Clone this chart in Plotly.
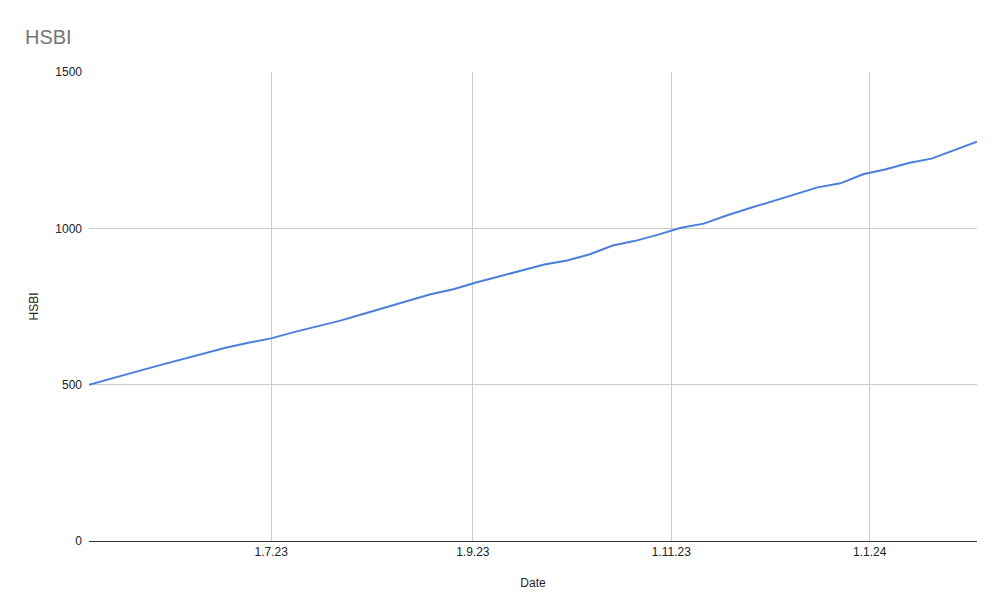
import plotly.graph_objects as go
import pandas as pd

start_date = "2023-05-06"
n_weeks = 40
hsbi_values = [500, 521, 540, 560, 580, 600, 618, 634, 648, 668,
               686, 704, 725, 746, 769, 789, 805, 827, 846, 864,
               884, 897, 917, 945, 960, 980, 1002, 1015, 1041, 1064,
               1086, 1108, 1131, 1144, 1173, 1189, 1209, 1223, 1250, 1277]
dates = list(pd.date_range(start_date, periods=n_weeks, freq="7D"))

x_tick_dates = ["2023-07-01", "2023-09-01", "2023-11-01", "2024-01-01"]
x_tick_labels = ["1.7.23", "1.9.23", "1.11.23", "1.1.24"]
y_ticks = [0, 500, 1000, 1500]

font_family = "Arial, Liberation Sans, sans-serif"

fig = go.Figure()
fig.add_trace(go.Scatter(
    x=dates, y=hsbi_values, mode="lines",
    line=dict(color="#4a7fdb", width=2),
    name="HSBI", showlegend=False,
))

fig.update_layout(
    width=1004, height=616,
    paper_bgcolor="white", plot_bgcolor="white",
    margin=dict(l=81, r=35, t=64, b=83),
    font=dict(family=font_family, size=12, color="#222222"),
    title=dict(text="HSBI", x=17 / 1004, xref="container", xanchor="left",
               y=1 - 29 / 616, yref="container", yanchor="middle",
               font=dict(size=20, color="#757575", family=font_family)),
    xaxis=dict(
        range=[dates[0], dates[-1]],
        tickvals=x_tick_dates, ticktext=x_tick_labels,
        showgrid=True, gridcolor="#cccccc", gridwidth=1,
        showline=True, linecolor="#333333", linewidth=1,
        ticks="", zeroline=False,
        title=dict(text="Date", standoff=20, font=dict(size=12, color="#222222")),
        tickfont=dict(size=12, color="#222222"),
    ),
    yaxis=dict(
        range=[0, 1500], tickvals=y_ticks,
        showgrid=True, gridcolor="#cccccc", gridwidth=1,
        zeroline=False, showline=False, ticks="",
        ticklabelstandoff=6,
        title=dict(text="HSBI", standoff=14, font=dict(size=12, color="#222222")),
        tickfont=dict(size=12, color="#222222"),
    ),
)

fig.write_html("out.html")
